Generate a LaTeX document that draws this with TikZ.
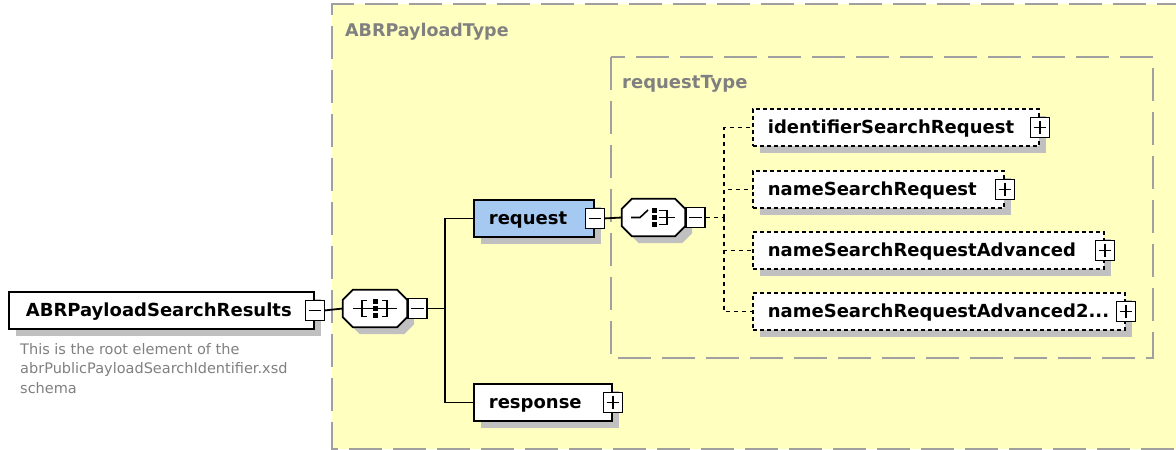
\documentclass[tikz,border=0pt]{standalone}
\usepackage{fontspec}
\setmainfont{DejaVu Sans}
\usetikzlibrary{shadows}
\definecolor{ylw}{HTML}{FFFFC0}
\definecolor{bord}{HTML}{A0A0A0}
\definecolor{shd}{HTML}{C0C0C0}
\definecolor{blu}{HTML}{A6C9F1}
\definecolor{txtg}{HTML}{808080}
\newcommand\octa[4]{%
 \path[#4] ([shift={(#2+10,#3)}]#1.north west) -- ([shift={(#2-10,#3)}]#1.north east) -- ([shift={(#2,#3+10)}]#1.north east) -- ([shift={(#2,#3-10)}]#1.south east) -- ([shift={(#2-10,#3)}]#1.south east) -- ([shift={(#2+10,#3)}]#1.south west) -- ([shift={(#2,#3-10)}]#1.south west) -- ([shift={(#2,#3+10)}]#1.north west) -- cycle;}
\newcommand\minussign[1]{\draw[line width=1.4pt] ([shift={(4,0)}]#1.west) -- ([shift={(-4,0)}]#1.east);}
\newcommand\plussign[1]{\minussign{#1}\draw[line width=1.4pt] ([shift={(0,4)}]#1.north) -- ([shift={(0,-4)}]#1.south);}
\begin{document}
\begin{tikzpicture}[x=1pt,y=-1pt,
  elfont/.style={font=\fontsize{18}{20}\selectfont\bfseries},
  shadowed/.style={drop shadow={shadow xshift=7pt,shadow yshift=-7pt,fill=shd,opacity=1}},
  elem/.style={elfont, draw=black, line width=1.8pt, fill=white, anchor=north west, minimum height=37pt, inner ysep=0pt, inner xsep=15pt, align=left, text height=17pt, text depth=4pt, shadowed},
  optelem/.style={elem, dash pattern=on 4pt off 3pt},
  pm/.style={draw=black, line width=1.4pt, fill=white, minimum width=19pt, minimum height=20pt, inner sep=0pt, solid},
  conn/.style={draw=black, line width=1.8pt},
  optconn/.style={conn, dash pattern=on 4pt off 4pt},
  group/.style={draw=bord, line width=2.2pt, dash pattern=on 33pt off 11pt},
  comp/.style={draw=none, minimum width=64pt, minimum height=37pt, inner sep=0pt},
  icon/.style={draw=black, line width=1.6pt},
  hdr/.style={font=\fontsize{17.5}{20}\selectfont\bfseries, text=txtg, anchor=base west, inner sep=0pt},
]
\useasboundingbox (0,0) rectangle (1176,450);
\fill[white] (0,0) rectangle (1176,450);
% groups
\fill[ylw] (332,4) rectangle (1190,449);
\draw[group] (1190,4) -- (332,4) -- (332,449) -- (1190,449);
\node[hdr] (hdrA) at (345,36) {ABRPayloadType};
\draw[group] (611,57) rectangle (1153,358);
\node[hdr, font=\fontsize{18}{20}\selectfont\bfseries] (hdrR) at (622,88) {requestType};

% root
\node[elem, text width=271pt, inner xsep=17pt] (root) at (8,291) {ABRPayloadSearchResults};
\node[pm] (rootm) at (root.east) {}; \minussign{rootm}
\node[anchor=north west, inner sep=0pt, align=left, text=txtg, font=\fontsize{14.5}{19.2}\selectfont] (desc) at (20,343.5) {This is the root element of the\\abrPublicPayloadSearchIdentifier.xsd\\schema};

% sequence compositor
\node[comp] (seq) at (375,308.5) {};
\octa{seq}{7}{7}{fill=shd}
\octa{seq}{0}{0}{fill=white, draw=black, line width=1.8pt}
\draw[icon] ([shift={(-22,0)}]seq.center) -- ([shift={(22,0)}]seq.center);
\draw[icon] ([shift={(-8,-8)}]seq.center) -- ([shift={(-13,-8)}]seq.center) -- ([shift={(-13,8)}]seq.center) -- ([shift={(-8,8)}]seq.center);
\draw[icon] ([shift={(7,-8)}]seq.center) -- ([shift={(12,-8)}]seq.center) -- ([shift={(12,8)}]seq.center) -- ([shift={(7,8)}]seq.center);
\foreach \d in {-7,0,7}{\fill ([shift={(-2.5,\d-2.5)}]seq.center) rectangle ([shift={(2.5,\d+2.5)}]seq.center);}
\node[pm, anchor=west] (seqm) at (seq.east) {}; \minussign{seqm}
\draw[conn] (rootm.east) -- (seq.west);

% request / response
\node[elem, fill=blu, text width=90pt] (req) at (473,199) {request};
\node[pm] (reqm) at (req.east) {}; \minussign{reqm}
\node[elem, text width=108pt] (resp) at (473,383) {response};
\node[pm] (respm) at (resp.east) {}; \plussign{respm}
\coordinate (j1) at (445,308.5);
\draw[conn] (seqm.east) -- (j1);
\draw[conn] (req.west) -| (j1) |- (resp.west);

% choice compositor
\node[comp, minimum width=63pt] (cho) at (653.5,217.5) {};
\octa{cho}{7}{7}{fill=shd}
\octa{cho}{0}{0}{fill=white, draw=black, line width=1.8pt}
\draw[icon] ([shift={(-22.5,0)}]cho.center) -- ([shift={(-13.5,0)}]cho.center) -- ([shift={(-5.5,-7.5)}]cho.center);
\draw[icon] ([shift={(5,-7)}]cho.center) -- ([shift={(13.5,-7)}]cho.center) -- ([shift={(13.5,7)}]cho.center) -- ([shift={(5,7)}]cho.center);
\draw[icon] ([shift={(5,0)}]cho.center) -- ([shift={(21.5,0)}]cho.center);
\foreach \d in {-7,0,7}{\fill ([shift={(-2,\d-2.5)}]cho.center) rectangle ([shift={(3,\d+2.5)}]cho.center);}
\node[pm, anchor=west] (chom) at (cho.east) {}; \minussign{chom}
\draw[conn] (reqm.east) -- (cho.west);
\coordinate (j2) at (724,217.5);
\draw[optconn] (chom.east) -- (j2);

% children
\node[optelem, text width=256pt] (c1) at (752,108) {identifierSearchRequest};
\node[pm] (c1p) at (c1.east) {}; \plussign{c1p}
\node[optelem, text width=221pt] (c2) at (752,170) {nameSearchRequest};
\node[pm] (c2p) at (c2.east) {}; \plussign{c2p}
\node[optelem, text width=321pt] (c3) at (752,231) {nameSearchRequestAdvanced};
\node[pm] (c3p) at (c3.east) {}; \plussign{c3p}
\node[optelem, text width=342pt] (c4) at (752,292) {nameSearchRequestAdvanced2...};
\node[pm] (c4p) at (c4.east) {}; \plussign{c4p}
\draw[optconn] (j2) |- (c1.west);
\draw[optconn] (j2) |- (c2.west);
\draw[optconn] (j2) |- (c3.west);
\draw[optconn] (j2) |- (c4.west);
\end{tikzpicture}
\end{document}
